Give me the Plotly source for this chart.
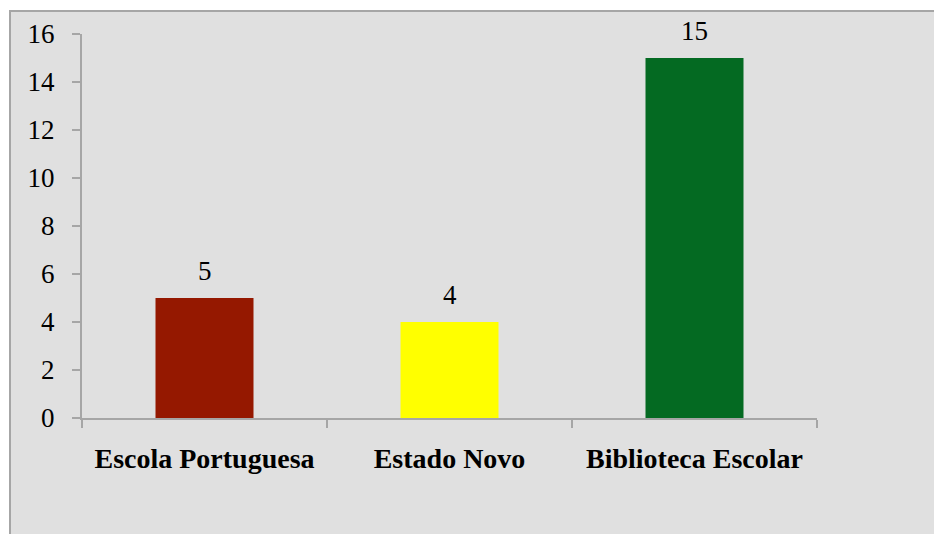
import plotly.graph_objects as go

categories = ["Escola Portuguesa", "Estado Novo", "Biblioteca Escolar"]
values = [5, 4, 15]
colors = ["#951800", "#ffff00", "#046a22"]
y_ticks = [0, 2, 4, 6, 8, 10, 12, 14, 16]

W, H = 934, 534
ML, MR, MT, MB = 82, 117, 34, 116
pw, ph = W - ML - MR, H - MT - MB
FONT = "Liberation Serif, DejaVu Serif, serif"

fig = go.Figure()
fig.add_trace(go.Bar(
    x=categories, y=values,
    marker=dict(color=colors, line=dict(width=0)),
    width=0.4,
    hoverinfo="skip",
))
for c, v in zip(categories, values):
    fig.add_annotation(x=c, y=v, text=str(v), showarrow=False,
                       yanchor="bottom", yshift=10,
                       font=dict(family=FONT, size=27, color="#000000"))

# outer frame (chart area background with border), clipped by page edge
fig.add_shape(type="rect", xref="paper", yref="paper",
              x0=(10 - ML) / pw, x1=(W + 20 - ML) / pw,
              y0=-(H + 20 - MT - ph) / ph, y1=(H - 11 - MB) / ph,
              line=dict(color="#a6a6a6", width=2), fillcolor="#e0e0e0", layer="below")

fig.update_layout(
    width=W, height=H,
    margin=dict(l=ML, r=MR, t=MT, b=MB, pad=0),
    paper_bgcolor="#ffffff",
    plot_bgcolor="rgba(0,0,0,0)",
    showlegend=False,
    bargap=0.6,
    font=dict(family=FONT, color="#000000"),
)
fig.update_yaxes(range=[0, 16], tickvals=y_ticks, ticks="outside", ticklen=8,
                 tickcolor="#a6a6a6", tickwidth=2, showline=True, linecolor="#a6a6a6",
                 linewidth=2, showgrid=False, zeroline=False,
                 tickfont=dict(size=27, family=FONT),
                 ticklabelstandoff=12)
fig.update_xaxes(tickson="boundaries", ticks="outside", ticklen=8, tickcolor="#a6a6a6",
                 tickwidth=2, showline=True, linecolor="#a6a6a6", linewidth=2,
                 showgrid=False,
                 tickfont=dict(size=28, family=FONT),
                 ticklabelstandoff=14,
                 tickmode="array", tickvals=categories,
                 ticktext=["<b>" + c + "</b>" for c in categories])

fig.write_html("out.html", config={"displayModeBar": False},
               post_script="document.body.style.margin='0';")
